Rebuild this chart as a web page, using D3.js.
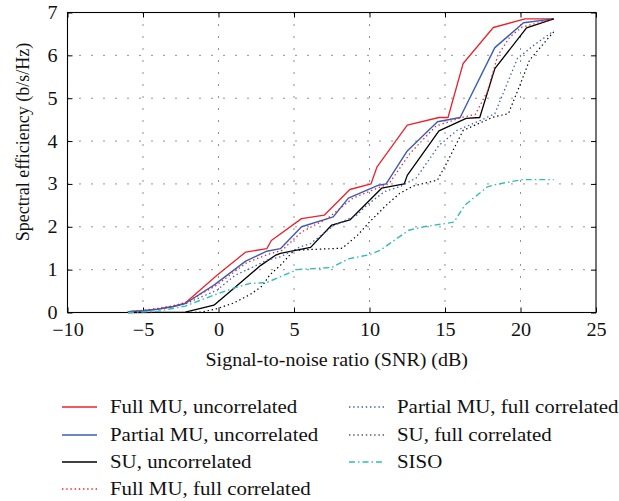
<!DOCTYPE html>
<html>
<head>
<meta charset="utf-8">
<script src="https://cdn.jsdelivr.net/npm/d3@7/dist/d3.min.js"></script>
<style>
  html, body { margin: 0; padding: 0; background: #fff; }
</style>
</head>
<body>
<svg id="chart" width="619" height="501"></svg>
<script>
// Spectral efficiency (b/s/Hz) versus SNR (dB) for each scheme
const xTicks = [-10, -5, 0, 5, 10, 15, 20, 25];
const yTicks = [0, 1, 2, 3, 4, 5, 6, 7];

const fullMuUncorrSnr = [-6, -5, -4, -3, -2.2, -0.1, 1.8, 3.2, 3.5, 5.5, 7.0, 8.7, 10.1, 10.5, 12.5, 14.6, 15.2, 16.2, 18.2, 20.3, 22.2];
const fullMuUncorrSe  = [0.02, 0.04, 0.08, 0.14, 0.22, 0.87, 1.41, 1.49, 1.68, 2.19, 2.27, 2.87, 3.0, 3.4, 4.37, 4.55, 4.55, 5.81, 6.65, 6.85, 6.85];

const partMuUncorrSnr = [-6, -5, -4, -3, -2.2, -0.3, 1.8, 3.2, 4.1, 5.5, 7.6, 8.6, 10.6, 11.1, 12.5, 14.5, 16.0, 18.3, 20.2, 22.2];
const partMuUncorrSe  = [0.02, 0.04, 0.08, 0.14, 0.21, 0.64, 1.2, 1.43, 1.49, 2.0, 2.23, 2.67, 2.97, 3.0, 3.77, 4.45, 4.55, 6.18, 6.76, 6.85];

const suUncorrSnr = [-6, -2.2, -0.3, 1.1, 2.8, 3.8, 4.1, 6.1, 7.5, 8.7, 10.8, 12.3, 12.5, 14.6, 16.4, 17.3, 18.3, 20.4, 22.2];
const suUncorrSe  = [0, 0.01, 0.17, 0.59, 1.1, 1.34, 1.38, 1.52, 2.04, 2.16, 2.9, 3.0, 3.2, 4.24, 4.53, 4.55, 5.69, 6.64, 6.85];

const fullMuCorrSnr = [-6, -5, -4, -3, -2.2, -0.2, 1.9, 3.3, 4.2, 5.5, 7.2, 8.9, 10.3, 11.3, 12.7, 14.4, 16.2, 17.0, 17.8, 18.5, 19.3, 20.1, 22.2];
const fullMuCorrSe  = [0.02, 0.05, 0.1, 0.16, 0.23, 0.62, 1.17, 1.36, 1.45, 1.88, 2.19, 2.67, 2.87, 3.01, 3.72, 4.35, 4.56, 4.62, 5.15, 6.0, 6.43, 6.66, 6.85];

const partMuCorrSnr = [-6, -5, -4, -3, -2.2, -0.1, 1.1, 2.1, 3.2, 4.1, 5.4, 6.1, 7.6, 9.2, 9.8, 11.0, 12.1, 13.1, 14.6, 15.8, 17.4, 18.3, 19.8, 20.9, 22.2];
const partMuCorrSe  = [0.02, 0.04, 0.08, 0.14, 0.2, 0.52, 0.87, 1.03, 1.22, 1.3, 1.53, 1.61, 2.02, 2.28, 2.5, 2.82, 2.95, 3.14, 3.9, 4.25, 4.49, 4.64, 5.93, 6.24, 6.57];

const suCorrSnr = [-6, -2.2, -1.1, -0.1, 1.0, 2.1, 2.9, 3.4, 4.1, 5.0, 6.1, 8.2, 9.2, 10.0, 11.1, 12.0, 12.9, 14.5, 15.1, 16.2, 18.2, 19.2, 20.0, 20.6, 22.2];
const suCorrSe  = [0, 0, 0.01, 0.09, 0.22, 0.42, 0.62, 0.88, 1.1, 1.45, 1.47, 1.5, 1.8, 2.11, 2.5, 2.78, 2.95, 3.09, 3.48, 4.25, 4.56, 4.64, 5.34, 5.89, 6.55];

const sisoSnr = [-6, -4, -2.2, -0.2, 1.1, 2.1, 3.2, 4.2, 5.2, 7.5, 8.6, 10.0, 10.7, 12.6, 13.6, 15.1, 15.6, 16.3, 17.8, 18.4, 20.1, 22.2];
const sisoSe  = [0, 0.03, 0.15, 0.42, 0.58, 0.68, 0.7, 0.85, 1.0, 1.05, 1.25, 1.35, 1.45, 1.92, 2.0, 2.08, 2.11, 2.5, 2.93, 2.99, 3.1, 3.1];

const seriesNames = [
  "Full MU, uncorrelated",
  "Partial MU, uncorrelated",
  "SU, uncorrelated",
  "Full MU, full correlated",
  "Partial MU, full correlated",
  "SU, full correlated",
  "SISO"
];

const zip = (xs, ys) => xs.map((x, i) => [x, ys[i]]);
const seriesData = [
  zip(fullMuUncorrSnr, fullMuUncorrSe),
  zip(partMuUncorrSnr, partMuUncorrSe),
  zip(suUncorrSnr, suUncorrSe),
  zip(fullMuCorrSnr, fullMuCorrSe),
  zip(partMuCorrSnr, partMuCorrSe),
  zip(suCorrSnr, suCorrSe),
  zip(sisoSnr, sisoSe)
];

// line styles per series
const styles = [
  { color: "#e8232b", dash: null,        width: 1.3 },
  { color: "#3b5cb4", dash: null,        width: 1.4 },
  { color: "#000000", dash: null,        width: 1.3 },
  { color: "#e8232b", dash: "1.4,2.8",   width: 1.3 },
  { color: "#3b5cb4", dash: "1.4,2.8",   width: 1.3 },
  { color: "#000000", dash: "1.4,2.8",   width: 1.2 },
  { color: "#30bcbc", dash: "6,3,1.5,3", width: 1.4 }
];

const FONT = "'Liberation Serif', 'Times New Roman', 'DejaVu Serif', serif";
const FONT_SIZE = "18px";

// horizontal text is set a little wider than the font's natural width
function widen(sel, k) {
  sel.each(function () {
    const w = this.getComputedTextLength();
    d3.select(this).attr("textLength", w * k).attr("lengthAdjust", "spacingAndGlyphs");
  });
}

const svg = d3.select("#chart");
const plot = { left: 67.5, right: 596, top: 12.5, bottom: 312.5 };

const x = d3.scaleLinear().domain([-10, 25]).range([plot.left, plot.right]);
const y = d3.scaleLinear().domain([0, 7]).range([plot.bottom, plot.top]);

// dotted grid
const grid = svg.append("g").attr("stroke", "#222").attr("stroke-width", 1).attr("stroke-dasharray", "1,11");
grid.selectAll("line.gx").data(xTicks.slice(1, -1)).join("line")
  .attr("x1", d => x(d)).attr("x2", d => x(d))
  .attr("y1", plot.top).attr("y2", plot.bottom);
grid.selectAll("line.gy").data(yTicks.slice(1, -1)).join("line")
  .attr("x1", plot.left).attr("x2", plot.right)
  .attr("y1", d => y(d)).attr("y2", d => y(d));

// axes with inward ticks on all four sides
const fmt = d => (d < 0 ? "\u2212" + Math.abs(d) : String(d));
const bottomAxis = svg.append("g").attr("transform", `translate(0,${plot.bottom})`)
  .call(d3.axisBottom(x).tickValues(xTicks).tickSizeInner(-5).tickSizeOuter(0).tickPadding(9).tickFormat(fmt));
const topAxis = svg.append("g").attr("transform", `translate(0,${plot.top})`)
  .call(d3.axisTop(x).tickValues(xTicks).tickSizeInner(-5).tickSizeOuter(0).tickFormat(""));
const leftAxis = svg.append("g").attr("transform", `translate(${plot.left},0)`)
  .call(d3.axisLeft(y).tickValues(yTicks).tickSizeInner(-5).tickSizeOuter(0).tickPadding(10).tickFormat(fmt));
const rightAxis = svg.append("g").attr("transform", `translate(${plot.right},0)`)
  .call(d3.axisRight(y).tickValues(yTicks).tickSizeInner(-5).tickSizeOuter(0).tickFormat(""));

[bottomAxis, topAxis, leftAxis, rightAxis].forEach(g => {
  g.attr("font-family", FONT).attr("font-size", FONT_SIZE);
  g.select(".domain").remove();
  g.selectAll(".tick line").attr("stroke", "#000");
  g.selectAll("text").attr("fill", "#111")
    .style("font-family", FONT).style("font-size", FONT_SIZE);
});
bottomAxis.selectAll("text").attr("dy", "0.8em");
leftAxis.selectAll("text").attr("dy", "0.33em");
widen(bottomAxis.selectAll("text"), 1.12);
widen(leftAxis.selectAll("text"), 1.12);

// frame
svg.append("rect")
  .attr("x", plot.left).attr("y", plot.top)
  .attr("width", plot.right - plot.left).attr("height", plot.bottom - plot.top)
  .attr("fill", "none").attr("stroke", "#000").attr("stroke-width", 1.1);

// series
const line = d3.line().x(d => x(d[0])).y(d => y(d[1]));
svg.append("g").selectAll("path").data(seriesData).join("path")
  .attr("d", line)
  .attr("fill", "none")
  .attr("stroke", (d, i) => styles[i].color)
  .attr("stroke-width", (d, i) => styles[i].width)
  .attr("stroke-dasharray", (d, i) => styles[i].dash)
  .attr("stroke-linejoin", "round");

// axis titles
const xTitle = svg.append("text")
  .attr("x", (plot.left + plot.right) / 2 + 5).attr("y", 366)
  .attr("text-anchor", "middle")
  .style("font-family", FONT).style("font-size", FONT_SIZE).attr("fill", "#111")
  .text("Signal-to-noise ratio (SNR) (dB)");
widen(xTitle, 1.11);
svg.append("text")
  .attr("transform", `translate(29,${142}) rotate(-90)`)
  .attr("text-anchor", "middle")
  .style("font-family", FONT).style("font-size", FONT_SIZE).attr("fill", "#111")
  .text("Spectral efficiency (b/s/Hz)");

// legend in two columns
const legendPos = [
  { lx: 62, tx: 110, y: 407 },
  { lx: 62, tx: 110, y: 435 },
  { lx: 62, tx: 110, y: 462 },
  { lx: 62, tx: 110, y: 489 },
  { lx: 349, tx: 397, y: 407 },
  { lx: 349, tx: 397, y: 435 },
  { lx: 349, tx: 397, y: 462 }
];
const legend = svg.append("g");
const items = legend.selectAll("g").data(seriesNames).join("g");
items.append("line")
  .attr("x1", (d, i) => legendPos[i].lx).attr("x2", (d, i) => legendPos[i].lx + 35)
  .attr("y1", (d, i) => legendPos[i].y).attr("y2", (d, i) => legendPos[i].y)
  .attr("stroke", (d, i) => styles[i].color)
  .attr("stroke-width", (d, i) => styles[i].width)
  .attr("stroke-dasharray", (d, i) => styles[i].dash);
const legendText = items.append("text")
  .attr("x", (d, i) => legendPos[i].tx).attr("y", (d, i) => legendPos[i].y)
  .attr("dy", "0.32em")
  .style("font-family", FONT).style("font-size", FONT_SIZE).attr("fill", "#111")
  .text(d => d);
widen(legendText, 1.16);
</script>
</body>
</html>
